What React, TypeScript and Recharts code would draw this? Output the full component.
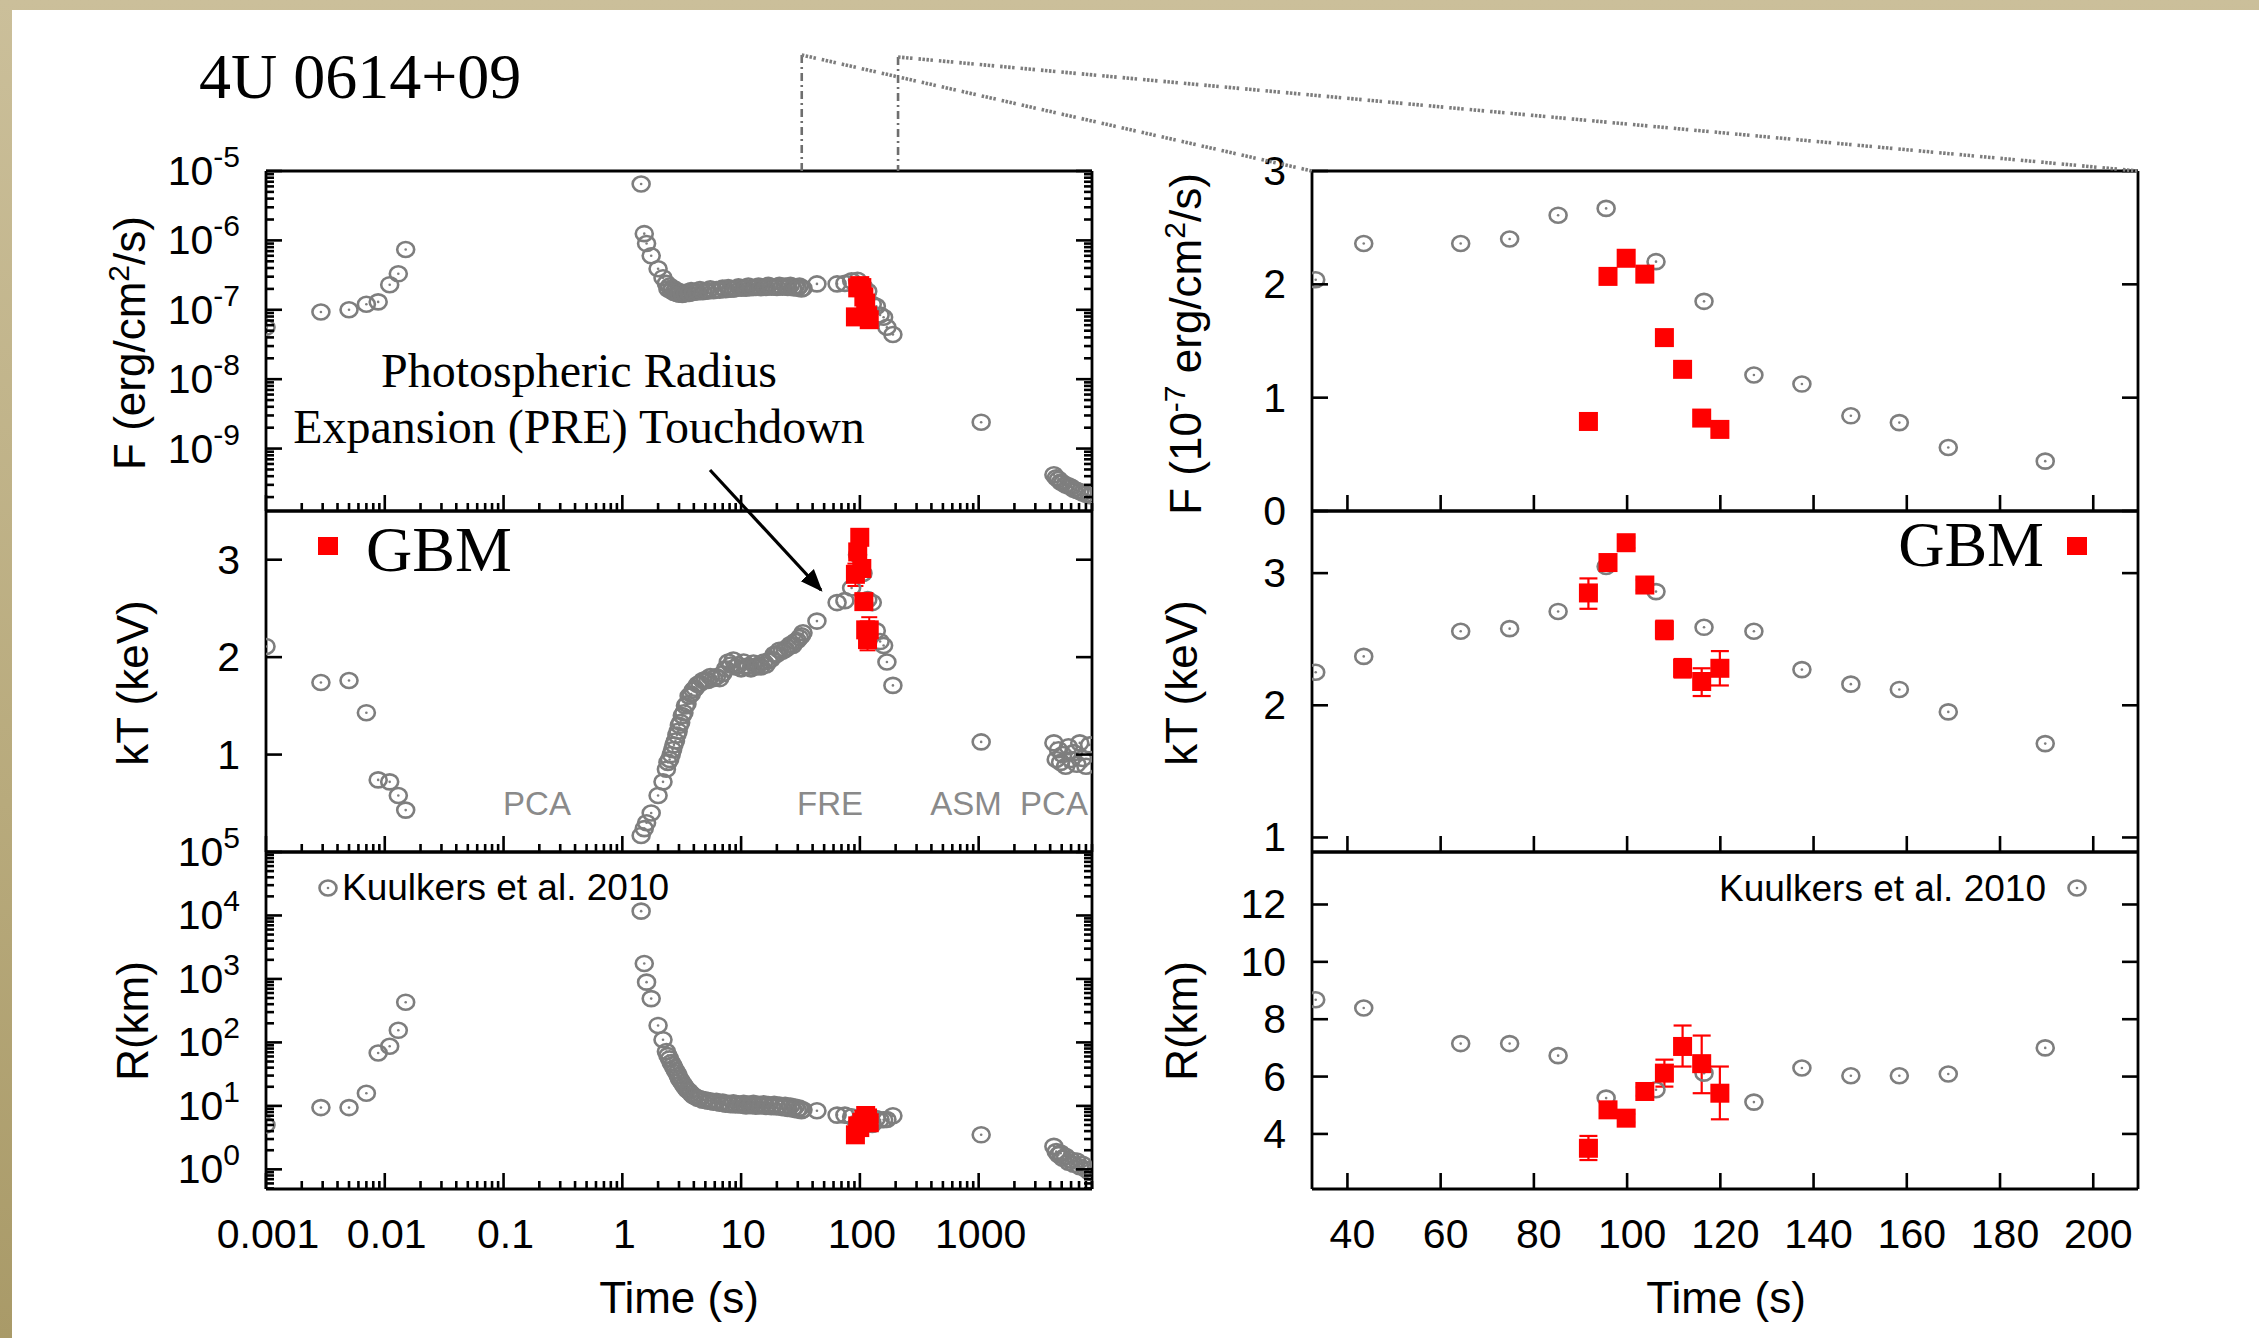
import React from "react";
import { ErrorBar, Scatter, ScatterChart, XAxis, YAxis } from "recharts";

// Kuulkers et al. 2010 burst from 4U 0614+09 (time since onset, s)
const kuulkersTime = [
  0.001, 0.0029, 0.005, 0.007, 0.0088, 0.011, 0.013, 0.015,
  1.44, 1.53, 1.6, 1.75, 2.0, 2.2, 2.35, 2.5, 2.65, 2.8, 2.95, 3.1, 3.3, 3.5, 3.8, 4.1, 4.5, 5.0, 5.5, 6.2,
  7.0, 7.8, 8.6, 9.5, 10.5, 11.5, 12.7, 14, 15.5, 17, 19, 21, 23.5, 26, 28.5, 31,
  33.2, 43.5, 64.3, 74.8, 85.2, 95.5, 106.2, 116.5, 127.2, 137.5, 148, 158.4, 168.9, 189.7,
  1050,
  4300, 4500, 4700, 4900, 5100, 5400, 5700, 6000, 6300, 6700, 7100, 7500, 8000, 8600,
];
// bolometric flux, erg/cm^2/s
const kuulkersFlux = [
  5.6e-8, 9.3e-8, 1.0e-7, 1.2e-7, 1.3e-7, 2.3e-7, 3.3e-7, 7.4e-7,
  6.5e-6, 1.25e-6, 9.0e-7, 6.0e-7, 3.9e-7, 2.9e-7, 2.4e-7, 2.2e-7, 2.05e-7, 1.95e-7, 1.85e-7, 1.8e-7, 1.75e-7,
  1.8e-7, 1.9e-7, 1.85e-7, 1.95e-7, 1.9e-7, 2.0e-7, 1.95e-7, 2.05e-7, 2.1e-7, 2.0e-7, 2.15e-7, 2.1e-7, 2.2e-7,
  2.1e-7, 2.2e-7, 2.15e-7, 2.25e-7, 2.15e-7, 2.25e-7, 2.2e-7, 2.25e-7, 2.15e-7, 2.2e-7,
  2.04e-7, 2.36e-7, 2.36e-7, 2.4e-7, 2.61e-7, 2.67e-7, 2.2e-7, 1.85e-7, 1.2e-7, 1.12e-7, 0.84e-7, 0.78e-7,
  0.56e-7, 0.44e-7,
  2.4e-9,
  4.2e-10, 3.8e-10, 3.6e-10, 3.3e-10, 3.2e-10, 3.0e-10, 2.9e-10, 2.8e-10, 2.6e-10, 2.5e-10, 2.4e-10, 2.3e-10,
  2.2e-10, 2.1e-10,
];
// blackbody temperature, keV
const kuulkersKT = [
  2.11, 1.74, 1.76, 1.43, 0.74, 0.72, 0.58, 0.43,
  0.17, 0.24, 0.3, 0.4, 0.58, 0.72, 0.85, 0.95, 1.05, 1.14, 1.24, 1.33, 1.43, 1.52, 1.62, 1.68, 1.73, 1.77,
  1.8, 1.8, 1.83, 1.95, 1.97, 1.92, 1.95, 1.91, 1.94, 1.92, 1.95, 1.96, 2.03, 2.07, 2.08, 2.13, 2.16, 2.2,
  2.25, 2.37, 2.56, 2.58, 2.71, 3.05, 2.86, 2.59, 2.56, 2.27, 2.16, 2.12, 1.95, 1.71,
  1.13,
  1.12, 0.95, 1.05, 0.92, 1.0, 0.88, 1.08, 0.95, 1.02, 0.9, 1.12, 0.96, 0.88, 1.1,
];
// blackbody radius, km
const kuulkersRadius = [
  5.0, 9.4, 9.4, 15.8, 68, 87, 155, 430,
  11700, 1750, 890, 490, 185, 110, 72, 55, 44, 36, 30, 25, 21, 18, 15.5, 14, 13, 12.5, 12, 11.8, 11.5, 11,
  11.2, 10.8, 11, 10.7, 11, 10.6, 10.8, 10.5, 10.6, 10.3, 10.2, 9.9, 9.6, 9.2,
  8.68, 8.39, 7.15, 7.15, 6.73, 5.25, 5.54, 6.12, 5.11, 6.3, 6.03, 6.03, 6.09, 7.0,
  3.5,
  2.3, 1.9, 1.7, 1.8, 1.5, 1.6, 1.3, 1.4, 1.2, 1.35, 1.1, 1.2, 1.0, 0.9,
];

// extra spectra in the dense cooling-tail band (2-33 s)
const bandTime = [
  2.42, 2.58, 2.72, 2.88, 3.02, 3.2, 3.4, 3.65, 3.95, 4.3, 4.75, 5.25, 5.85, 6.6, 7.4, 8.2, 9.0, 10.0, 11.0,
  12.1, 13.3, 14.7, 16.2, 18, 20, 22.2, 24.7, 27.2, 29.7, 32.2,
];
const bandFlux = [
  2.0e-7, 1.88e-7, 1.78e-7, 1.72e-7, 1.68e-7, 1.66e-7, 1.7e-7, 1.72e-7, 1.78e-7, 1.8e-7, 1.82e-7, 1.86e-7,
  1.88e-7, 1.92e-7, 1.95e-7, 1.98e-7, 2.02e-7, 2.05e-7, 2.05e-7, 2.08e-7, 2.1e-7, 2.08e-7, 2.1e-7, 2.12e-7,
  2.1e-7, 2.12e-7, 2.1e-7, 2.08e-7, 2.05e-7, 2.0e-7,
];
const bandKT = [
  0.92, 1.0, 1.1, 1.2, 1.3, 1.4, 1.5, 1.6, 1.66, 1.72, 1.76, 1.76, 1.78, 1.78, 1.88, 1.92, 1.9, 1.88, 1.9,
  1.88, 1.9, 1.9, 1.92, 1.98, 2.03, 2.06, 2.1, 2.12, 2.17, 2.22,
];
const bandRadius = [
  62, 48, 40, 33, 27, 23, 19.5, 17, 14.5, 13.2, 12.3, 11.8, 11.4, 11.0, 10.6, 10.4, 10.3, 10.2, 10.0, 10.1,
  9.9, 10.0, 9.8, 9.7, 9.6, 9.4, 9.1, 8.9, 8.6, 8.4,
];

// Fermi GBM time-resolved fits
const gbmTime = [91.7, 95.9, 99.8, 103.8, 108, 111.9, 116, 119.9];
const gbmFlux = [0.79, 2.07, 2.23, 2.09, 1.53, 1.25, 0.82, 0.72]; // 1e-7 erg/cm^2/s
const gbmKT = [2.85, 3.08, 3.23, 2.91, 2.57, 2.28, 2.18, 2.28];
const gbmKTErrLo = [0.12, 0.04, 0.04, 0.04, 0.07, 0.07, 0.11, 0.13];
const gbmKTErrHi = [0.11, 0.04, 0.04, 0.04, 0.07, 0.07, 0.1, 0.13];
const gbmRadius = [3.5, 4.84, 4.55, 5.48, 6.12, 7.05, 6.45, 5.42];
const gbmRErrLo = [0.41, 0.15, 0.15, 0.15, 0.47, 0.7, 1.03, 0.91];
const gbmRErrHi = [0.43, 0.15, 0.15, 0.15, 0.47, 0.73, 0.98, 0.93];

// axes
const leftTimeTicks = [0.001, 0.01, 0.1, 1, 10, 100, 1000];
const leftTimeLabels = ["0.001", "0.01", "0.1", "1", "10", "100", "1000"];
const fluxMajors = [1e-9, 1e-8, 1e-7, 1e-6, 1e-5];
const radiusMajors = [1, 10, 100, 1000, 1e4, 1e5];
const ktTicks = [1, 2, 3];
const rightTimeTicks = [40, 60, 80, 100, 120, 140, 160, 180, 200];
const rightFluxTicks = [0, 1, 2, 3];
const rightRadiusTicks = [4, 6, 8, 10, 12];

const LEFT_T: [number, number] = [0.001, 9000];
const RIGHT_T: [number, number] = [32.4, 209.6];
const FLUX_LOG: [number, number] = [1.26e-10, 1e-5];
const KT_LEFT: [number, number] = [0, 3.5];
const R_LOG: [number, number] = [0.49, 1e5];
const FLUX_LIN: [number, number] = [0, 3];
const KT_RIGHT: [number, number] = [0.89, 3.47];
const R_LIN: [number, number] = [2.08, 13.83];

const SANS = "'Liberation Sans', Arial, Helvetica, sans-serif";
const SERIF = "'Liberation Serif', 'Times New Roman', serif";
const GRAY = "#7e7e7e";
const RED = "#ff0000";

const LEFT_X = 266;
const RIGHT_X = 1312;
const PLOT_W = 826;
const ROW_TOP = [171, 511, 852];
const ROW_H = [340, 341, 337];

function logTicks(lo: number, hi: number) {
  const out: number[] = [];
  for (let e = Math.floor(Math.log10(lo)); e <= Math.ceil(Math.log10(hi)); e++) {
    for (let m = 1; m <= 9; m++) {
      const v = m * Math.pow(10, e);
      if (v >= lo * 0.9999 && v <= hi * 1.0001) out.push(v);
    }
  }
  return out;
}

const near = (a: number, b: number) => Math.abs(a - b) <= Math.abs(b) * 1e-6 + 1e-12;
const majorIndex = (majors: number[], v: number) => majors.findIndex((m) => near(v, m));

const kuulkers = [
  ...kuulkersTime.map((t, i) => ({ t, f: kuulkersFlux[i], kt: kuulkersKT[i], r: kuulkersRadius[i] })),
  ...bandTime.map((t, i) => ({ t, f: bandFlux[i], kt: bandKT[i], r: bandRadius[i] })),
];
const gbm = gbmTime.map((t, i) => ({
  t,
  f: gbmFlux[i] * 1e-7,
  kt: gbmKT[i],
  r: gbmRadius[i],
  ktErr: [gbmKTErrLo[i], gbmKTErrHi[i]],
  rErr: [gbmRErrLo[i], gbmRErrHi[i]],
}));
const inZoom = (d: { t: number }) => d.t >= RIGHT_T[0] && d.t <= RIGHT_T[1];
const kuulkersZoom = kuulkers.filter(inZoom).map((d) => ({ ...d, f: d.f * 1e7 }));
const gbmZoom = gbm.map((d) => ({ ...d, f: d.f * 1e7 }));

const tickFont = { fontFamily: SANS, fontSize: 41, fill: "#000" };

type LabelFn = (v: number) => React.ReactNode;

const powLabel: LabelFn = (v) => (
  <>
    10
    <tspan dy={-18} fontSize={30}>
      {Math.round(Math.log10(v))}
    </tspan>
  </>
);
const plainLabel: LabelFn = (v) => String(v);

function makeTick(side: "bottom" | "top" | "left" | "right", majors: number[], label?: LabelFn, dx = 4) {
  return (p: any) => {
    const v = p.payload.value;
    const major = majorIndex(majors, v) >= 0;
    const len = major ? 16 : 8;
    const { x, y } = p;
    let line;
    let text = null;
    if (side === "bottom") {
      line = <line x1={x} x2={x} y1={y} y2={y - len} />;
      if (major && label)
        text = (
          <text x={x + dx} y={y + 59} textAnchor="middle" {...tickFont}>
            {label(v)}
          </text>
        );
    } else if (side === "top") {
      line = <line x1={x} x2={x} y1={y} y2={y + len} />;
    } else if (side === "left") {
      line = <line x1={x} x2={x + len} y1={y} y2={y} />;
      if (major && label)
        text = (
          <text x={x - 26} y={y + 14} textAnchor="end" {...tickFont}>
            {label(v)}
          </text>
        );
    } else {
      line = <line x1={x} x2={x - len} y1={y} y2={y} />;
    }
    return (
      <g>
        <g stroke="#000" strokeWidth={2.6}>{line}</g>
        {text}
      </g>
    );
  };
}

function RingDot(p: any) {
  if (p.cx == null || p.cy == null) return <g />;
  return (
    <g>
      <ellipse cx={p.cx} cy={p.cy} rx={8.5} ry={7.5} fill="none" stroke={GRAY} strokeWidth={2.6} />
      <circle cx={p.cx} cy={p.cy} r={1.3} fill={GRAY} />
    </g>
  );
}

function GbmSquare(p: any) {
  if (p.cx == null || p.cy == null) return <g />;
  return <rect x={p.cx - 9.5} y={p.cy - 9.5} width={19} height={19} fill={RED} />;
}

type PanelProps = {
  x: number;
  row: number;
  xLog: boolean;
  xDomain: [number, number];
  xTicks: number[];
  xMajors: number[];
  xLabel?: LabelFn;
  xLabelDx?: number;
  yLog: boolean;
  yDomain: [number, number];
  yTicks: number[];
  yMajors: number[];
  yLabel: LabelFn;
  yKey: string;
  children: React.ReactNode;
};

function Panel(props: PanelProps) {
  const top = ROW_TOP[props.row];
  const h = ROW_H[props.row];
  const axisLine = { stroke: "#000", strokeWidth: 2.8 };
  const xScale = props.xLog ? "log" : "linear";
  const yScale = props.yLog ? "log" : "linear";
  return (
    <div style={{ position: "absolute", left: props.x - 1, top: top - 1 }}>
      <ScatterChart width={PLOT_W + 2} height={h + 2} margin={{ top: 0, right: 0, bottom: 0, left: 0 }}>
        <XAxis
          xAxisId="b"
          orientation="bottom"
          dataKey="t"
          type="number"
          scale={xScale}
          domain={props.xDomain}
          allowDataOverflow
          ticks={props.xTicks}
          interval={0}
          height={1}
          tickSize={0}
          tickMargin={0}
          tickLine={false}
          axisLine={axisLine}
          tick={makeTick("bottom", props.xMajors, props.xLabel, props.xLabelDx)}
        />
        <XAxis
          xAxisId="t"
          orientation="top"
          type="number"
          scale={xScale}
          domain={props.xDomain}
          allowDataOverflow
          ticks={props.xTicks}
          interval={0}
          height={1}
          tickSize={0}
          tickMargin={0}
          tickLine={false}
          axisLine={axisLine}
          tick={makeTick("top", props.xMajors)}
        />
        <YAxis
          yAxisId="l"
          orientation="left"
          dataKey={props.yKey}
          type="number"
          scale={yScale}
          domain={props.yDomain}
          allowDataOverflow
          ticks={props.yTicks}
          interval={0}
          width={1}
          tickSize={0}
          tickMargin={0}
          tickLine={false}
          axisLine={axisLine}
          tick={makeTick("left", props.yMajors, props.yLabel)}
        />
        <YAxis
          yAxisId="r"
          orientation="right"
          type="number"
          scale={yScale}
          domain={props.yDomain}
          allowDataOverflow
          ticks={props.yTicks}
          interval={0}
          width={1}
          tickSize={0}
          tickMargin={0}
          tickLine={false}
          axisLine={axisLine}
          tick={makeTick("right", props.yMajors)}
        />
        {props.children}
      </ScatterChart>
    </div>
  );
}

const leftTimeLabel: LabelFn = (v) => leftTimeLabels[majorIndex(leftTimeTicks, v)];

function tLog(t: number) {
  const a = Math.log10(LEFT_T[0]);
  const b = Math.log10(LEFT_T[1]);
  return LEFT_X + ((Math.log10(t) - a) / (b - a)) * PLOT_W;
}

export default function App() {
  const leftX = { x: LEFT_X, xLog: true, xDomain: LEFT_T, xTicks: logTicks(LEFT_T[0], LEFT_T[1]), xMajors: leftTimeTicks };
  const rightX = { x: RIGHT_X, xLog: false, xDomain: RIGHT_T, xTicks: rightTimeTicks, xMajors: rightTimeTicks };
  const sc = { xAxisId: "b", yAxisId: "l", isAnimationActive: false };
  const zoomLeft = tLog(RIGHT_T[0]);
  const zoomRight = tLog(RIGHT_T[1]);
  const axTitle = { fontFamily: SANS, fontSize: 44, fill: "#000", textAnchor: "middle" as const };
  return (
    <div
      style={{
        position: "absolute",
        left: 0,
        top: 0,
        width: 2259,
        height: 1338,
        overflow: "hidden",
        background: "linear-gradient(180deg, #cbbf9a 0%, #b8aa7c 60%, #a99a68 100%)",
      }}
    >
      <style>{"svg { overflow: visible; }"}</style>
      <div style={{ position: "absolute", left: 12, top: 10, right: 0, bottom: 0, background: "#fff" }} />

      {/* left column: full light curve, log time */}
      <Panel {...leftX} row={0} yLog yDomain={FLUX_LOG} yTicks={logTicks(FLUX_LOG[0], FLUX_LOG[1])} yMajors={fluxMajors} yLabel={powLabel} yKey="f">
        <Scatter {...sc} data={kuulkers} shape={RingDot} />
        <Scatter {...sc} data={gbm} shape={GbmSquare} />
      </Panel>
      <Panel {...leftX} row={1} yLog={false} yDomain={KT_LEFT} yTicks={ktTicks} yMajors={ktTicks} yLabel={plainLabel} yKey="kt">
        <Scatter {...sc} data={kuulkers} shape={RingDot} />
        <Scatter {...sc} data={gbm} shape={GbmSquare}>
          <ErrorBar dataKey="ktErr" direction="y" width={8} stroke={RED} strokeWidth={2} />
        </Scatter>
      </Panel>
      <Panel {...leftX} row={2} xLabel={leftTimeLabel} xLabelDx={2} yLog yDomain={R_LOG} yTicks={logTicks(R_LOG[0], R_LOG[1])} yMajors={radiusMajors} yLabel={powLabel} yKey="r">
        <Scatter {...sc} data={kuulkers} shape={RingDot} />
        <Scatter {...sc} data={gbm} shape={GbmSquare} />
      </Panel>

      {/* right column: zoom on the GBM interval, linear time */}
      <Panel {...rightX} row={0} yLog={false} yDomain={FLUX_LIN} yTicks={rightFluxTicks} yMajors={rightFluxTicks} yLabel={plainLabel} yKey="f">
        <Scatter {...sc} data={kuulkersZoom} shape={RingDot} />
        <Scatter {...sc} data={gbmZoom} shape={GbmSquare} />
      </Panel>
      <Panel {...rightX} row={1} yLog={false} yDomain={KT_RIGHT} yTicks={ktTicks} yMajors={ktTicks} yLabel={plainLabel} yKey="kt">
        <Scatter {...sc} data={kuulkersZoom} shape={RingDot} />
        <Scatter {...sc} data={gbmZoom} shape={GbmSquare}>
          <ErrorBar dataKey="ktErr" direction="y" width={9} stroke={RED} strokeWidth={2.2} />
        </Scatter>
      </Panel>
      <Panel {...rightX} row={2} xLabel={plainLabel} xLabelDx={5} yLog={false} yDomain={R_LIN} yTicks={rightRadiusTicks} yMajors={rightRadiusTicks} yLabel={plainLabel} yKey="r">
        <Scatter {...sc} data={kuulkersZoom} shape={RingDot} />
        <Scatter {...sc} data={gbmZoom} shape={GbmSquare}>
          <ErrorBar dataKey="rErr" direction="y" width={9} stroke={RED} strokeWidth={2.2} />
        </Scatter>
      </Panel>

      {/* annotations */}
      <svg width={2259} height={1338} style={{ position: "absolute", left: 0, top: 0, pointerEvents: "none" }}>
        <defs>
          <marker id="head" viewBox="0 0 10 10" refX="9" refY="5" markerWidth="7" markerHeight="7" orient="auto">
            <path d="M0,1 L10,5 L0,9 z" fill="#000" />
          </marker>
        </defs>

        <g stroke="#6e6e6e" strokeWidth={2.6} fill="none">
          <line x1={zoomLeft} x2={zoomLeft} y1={55} y2={ROW_TOP[0]} strokeDasharray="8 4 2 4" />
          <line x1={zoomRight} x2={zoomRight} y1={57} y2={ROW_TOP[0]} strokeDasharray="8 4 2 4" />
        </g>
        <g stroke="#7d7d7d" strokeWidth={3.6} fill="none" strokeDasharray="2.5 1.5 2.5 1.5 2.5 1.5 2.5 6">
          <line x1={zoomLeft} y1={55} x2={RIGHT_X} y2={ROW_TOP[0]} />
          <line x1={zoomRight} y1={57} x2={RIGHT_X + PLOT_W} y2={ROW_TOP[0]} />
        </g>

        <text x={199} y={98} fontFamily={SERIF} fontSize={64} fill="#000">
          4U 0614+09
        </text>
        <text x={579} y={387} fontFamily={SERIF} fontSize={48} fill="#000" textAnchor="middle">
          Photospheric Radius
        </text>
        <text x={579} y={443} fontFamily={SERIF} fontSize={48} fill="#000" textAnchor="middle">
          Expansion (PRE) Touchdown
        </text>
        <line x1={710} y1={470} x2={821} y2={590} stroke="#000" strokeWidth={3.2} markerEnd="url(#head)" />

        <rect x={318} y={537} width={20} height={18} fill={RED} />
        <text x={366} y={571} fontFamily={SERIF} fontSize={64} fill="#000">
          GBM
        </text>
        <text x={2044} y={566} fontFamily={SERIF} fontSize={64} fill="#000" textAnchor="end">
          GBM
        </text>
        <rect x={2067} y={537} width={20} height={18} fill={RED} />

        <RingDot cx={328} cy={888} />
        <text x={342} y={900} fontFamily={SANS} fontSize={37} fill="#000">
          Kuulkers et al. 2010
        </text>
        <text x={2046} y={901} fontFamily={SANS} fontSize={37} fill="#000" textAnchor="end">
          Kuulkers et al. 2010
        </text>
        <RingDot cx={2077} cy={888} />

        <g fontFamily={SANS} fontSize={33} fill="#8a8a8a" textAnchor="middle">
          <text x={537} y={815}>PCA</text>
          <text x={830} y={815}>FRE</text>
          <text x={966} y={815}>ASM</text>
          <text x={1054} y={815}>PCA</text>
        </g>

        <text transform="translate(145,343) rotate(-90)" {...axTitle}>
          F (erg/cm<tspan dy={-16} fontSize={30}>2</tspan>
          <tspan dy={16}>/s)</tspan>
        </text>
        <text transform="translate(148,683) rotate(-90)" {...axTitle}>
          kT (keV)
        </text>
        <text transform="translate(148,1021) rotate(-90)" {...axTitle}>
          R(km)
        </text>
        <text transform="translate(1201,344) rotate(-90)" {...axTitle}>
          F (10<tspan dy={-16} fontSize={30}>-7</tspan>
          <tspan dy={16}> erg/cm</tspan>
          <tspan dy={-16} fontSize={30}>2</tspan>
          <tspan dy={16}>/s)</tspan>
        </text>
        <text transform="translate(1197,683) rotate(-90)" {...axTitle}>
          kT (keV)
        </text>
        <text transform="translate(1197,1021) rotate(-90)" {...axTitle}>
          R(km)
        </text>

        <text x={679} y={1313} fontFamily={SANS} fontSize={44} fill="#000" textAnchor="middle">
          Time (s)
        </text>
        <text x={1726} y={1313} fontFamily={SANS} fontSize={44} fill="#000" textAnchor="middle">
          Time (s)
        </text>
      </svg>
    </div>
  );
}
